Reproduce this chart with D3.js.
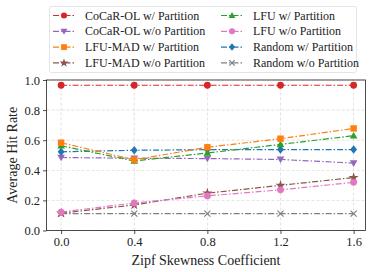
<!DOCTYPE html>
<html>
<head>
<meta charset="UTF-8">
<script src="https://cdn.jsdelivr.net/npm/d3@7"></script>
<style>
  body { margin: 0; background: #fff; }
</style>
</head>
<body>
<svg id="chart" width="373" height="272" font-family="'Liberation Serif', 'Times New Roman', Times, serif"></svg>
<script>
const xTicks = [0.0, 0.4, 0.8, 1.2, 1.6];
const yTicks = [0.0, 0.2, 0.4, 0.6, 0.8, 1.0];

const names = [
  "CoCaR-OL w/ Partition", "CoCaR-OL w/o Partition",
  "LFU-MAD w/ Partition", "LFU-MAD w/o Partition",
  "LFU w/ Partition", "LFU w/o Partition",
  "Random w/ Partition", "Random w/o Partition"
];
const colors = ["#d62728", "#9467bd", "#ff7f0e", "#8c564b", "#2ca02c", "#e377c2", "#1f77b4", "#7f7f7f"];
const markers = ["circle", "triDown", "square", "star", "triUp", "circle", "diamond", "cross"];

const cocarW = [0.965, 0.965, 0.965, 0.965, 0.965];
const cocarWo = [0.485, 0.48, 0.478, 0.472, 0.448];
const lfumadW = [0.583, 0.47, 0.553, 0.61, 0.678];
const lfumadWo = [0.115, 0.17, 0.248, 0.30, 0.352];
const lfuW = [0.563, 0.462, 0.515, 0.572, 0.63];
const lfuWo = [0.122, 0.183, 0.23, 0.27, 0.32];
const randomW = [0.523, 0.533, 0.537, 0.538, 0.538];
const randomWo = [0.112, 0.112, 0.112, 0.112, 0.112];

const series = [cocarW, cocarWo, lfumadW, lfumadWo, lfuW, lfuWo, randomW, randomWo];

const FONT = "'Liberation Serif', 'Times New Roman', Times, serif";
const margin = { left: 46.5, right: 7.5, top: 80, bottom: 41.5 };
const W = 373, H = 272;
const svg = d3.select("#chart");

const x = d3.scaleLinear().domain([-0.08, 1.665]).range([margin.left, W - margin.right]);
const y = d3.scaleLinear().domain([0, 1]).range([H - margin.bottom, margin.top]);

// grid
const g = svg.append("g");
g.selectAll(".gx").data(xTicks).enter().append("line")
  .attr("x1", d => x(d)).attr("x2", d => x(d))
  .attr("y1", y(0)).attr("y2", y(1))
  .attr("stroke", "#b0b0b0").attr("stroke-width", 0.6).attr("stroke-dasharray", "3,2").attr("opacity", 0.6);
g.selectAll(".gy").data(yTicks).enter().append("line")
  .attr("x1", margin.left).attr("x2", W - margin.right)
  .attr("y1", d => y(d)).attr("y2", d => y(d))
  .attr("stroke", "#b0b0b0").attr("stroke-width", 0.6).attr("stroke-dasharray", "3,2").attr("opacity", 0.6);

// axes
const xAxis = svg.append("g").attr("transform", `translate(0,${y(0)})`)
  .call(d3.axisBottom(x).tickValues(xTicks).tickFormat(d3.format(".1f")).tickSize(3.5).tickPadding(3));
const yAxis = svg.append("g").attr("transform", `translate(${margin.left},0)`)
  .call(d3.axisLeft(y).tickValues(yTicks).tickFormat(d3.format(".1f")).tickSize(3.5).tickPadding(3));
[xAxis, yAxis].forEach(a => {
  a.attr("font-family", FONT);
  a.select(".domain").remove();
  a.selectAll("text").style("font-size", "12.5px").attr("fill", "#222");
  a.selectAll("line").attr("stroke", "#222").attr("stroke-width", 0.8);
});

svg.append("rect")
  .attr("x", margin.left).attr("y", margin.top)
  .attr("width", W - margin.right - margin.left).attr("height", y(0) - y(1))
  .attr("fill", "none").attr("stroke", "#222").attr("stroke-width", 0.8);

svg.append("text").attr("x", (margin.left + W - margin.right) / 2).attr("y", 265)
  .attr("text-anchor", "middle").attr("fill", "#222").style("font-size", "14px").text("Zipf Skewness Coefficient");
svg.append("text").attr("transform", `translate(17,${(y(0) + y(1)) / 2}) rotate(-90)`)
  .attr("text-anchor", "middle").attr("fill", "#222").style("font-size", "14px").text("Average Hit Rate");

function marker(sel, type, color, s) {
  if (type === "circle") {
    sel.append("circle").attr("r", s * 0.9).attr("fill", color);
  } else if (type === "square") {
    sel.append("rect").attr("x", -s * 0.85).attr("y", -s * 0.85).attr("width", s * 1.7).attr("height", s * 1.7).attr("fill", color);
  } else if (type === "triUp") {
    sel.append("path").attr("d", `M0,${-s} L${s},${s * 0.75} L${-s},${s * 0.75}Z`).attr("fill", color);
  } else if (type === "triDown") {
    sel.append("path").attr("d", `M0,${s} L${s},${-s * 0.75} L${-s},${-s * 0.75}Z`).attr("fill", color);
  } else if (type === "diamond") {
    sel.append("path").attr("d", `M0,${-s * 1.1} L${s * 0.9},0 L0,${s * 1.1} L${-s * 0.9},0Z`).attr("fill", color);
  } else if (type === "star") {
    sel.append("path").attr("d", d3.symbol(d3.symbolStar, s * s * 2.2)()).attr("fill", color);
  } else if (type === "cross") {
    sel.append("path").attr("d", `M${-s * 0.8},${-s * 0.8} L${s * 0.8},${s * 0.8} M${-s * 0.8},${s * 0.8} L${s * 0.8},${-s * 0.8}`)
      .attr("stroke", color).attr("stroke-width", 1.2).attr("fill", "none");
  }
}

const line = d3.line().x((d, i) => x(xTicks[i])).y(d => y(d));
const order = [7, 3, 5, 1, 6, 4, 2, 0];
order.forEach(k => {
  svg.append("path").datum(series[k]).attr("d", line)
    .attr("fill", "none").attr("stroke", colors[k]).attr("stroke-width", 1.2)
    .attr("stroke-dasharray", "6,2,1.5,2");
  series[k].forEach((v, i) => {
    const m = svg.append("g").attr("transform", `translate(${x(xTicks[i])},${y(v)})`);
    marker(m, markers[k], colors[k], 3.8);
  });
});

// legend: two columns, column-major like matplotlib
const leg = svg.append("g");
leg.append("rect").attr("x", 49.5).attr("y", 6.5).attr("width", 307).attr("height", 66)
  .attr("rx", 2).attr("fill", "#fff").attr("stroke", "#ddd").attr("stroke-width", 0.8);
names.forEach((n, k) => {
  const c = k < 4 ? 0 : 1;
  const r = k % 4;
  const lx = c === 0 ? 53 : 221;
  const ly = 15.5 + r * 15.8;
  leg.append("line").attr("x1", lx).attr("x2", lx + 22).attr("y1", ly).attr("y2", ly)
    .attr("stroke", colors[k]).attr("stroke-width", 1.2).attr("stroke-dasharray", "6,2,1.5,2");
  const m = leg.append("g").attr("transform", `translate(${lx + 11},${ly})`);
  marker(m, markers[k], colors[k], 3.4);
  leg.append("text").attr("x", lx + 32).attr("y", ly + 4).attr("fill", "#222")
    .style("font-size", "12px").text(n);
});
</script>
</body>
</html>
